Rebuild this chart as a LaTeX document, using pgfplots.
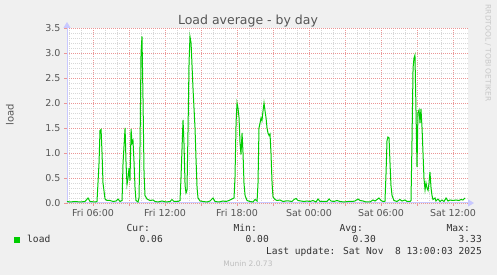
\documentclass[border=0pt]{standalone}
\usepackage{pgfplots}
\pgfplotsset{compat=1.18}
\usepackage{fontspec}
\setmainfont{DejaVu Sans}
\newfontfamily\monofont{DejaVu Sans Mono}
\usetikzlibrary{arrows.meta}
\definecolor{bgc}{RGB}{240,240,240}
\definecolor{axisblue}{RGB}{200,200,255}
\definecolor{majgrid}{RGB}{235,150,150}
\definecolor{mingrid}{RGB}{215,215,215}
\definecolor{txtgray}{RGB}{85,85,85}
\definecolor{loadgreen}{RGB}{0,204,0}
\definecolor{faint}{RGB}{200,200,200}
\begin{document}
\begin{tikzpicture}
\fill[bgc] (0,0) rectangle (497pt,275pt);
\begin{axis}[
  at={(67pt,72pt)}, anchor=south west,
  scale only axis, width=401pt, height=175pt,
  xmin=3.83, xmax=37.25, ymin=0, ymax=3.5,
  axis background/.style={fill=white},
  axis lines=left,
  axis line style={draw=axisblue, line width=1pt},
  x axis line style={-{Triangle[length=6pt,width=7pt]}, shorten >=-6pt},
  y axis line style={-{Triangle[length=6pt,width=7pt]}, shorten >=-6pt},
  xtick={3,6,...,36},
  xticklabels={,Fri 06:00,,Fri 12:00,,Fri 18:00,,Sat 00:00,,Sat 06:00,,Sat 12:00},
  minor x tick num=2,
  ytick={0,0.5,...,3.5},
  minor y tick num=4,
  yticklabel style={/pgf/number format/.cd, fixed, fixed zerofill, precision=1},
  /pgf/number format/assume math mode=true,
  tick label style={font=\fontsize{9.5}{10}\selectfont, text=txtgray},
  tick align=outside,
  major tick length=3pt, minor tick length=0pt,
  major tick style={draw=majgrid, line width=0.8pt},
  grid=both,
  major grid style={draw=majgrid, line width=0.8pt, dash pattern=on 1pt off 1pt},
  minor grid style={draw=mingrid, line width=0.7pt, dash pattern=on 1pt off 1pt},
  clip=false,
]
\addplot[color=loadgreen, line width=1pt] coordinates {
(3.83,0.03)(4.08,0.02)(4.5,0.03)(4.92,0.02)(5.33,0.03)(5.58,0.1)(5.75,0.03)(6.17,0.02)(6.33,0.03)
(6.5,0.8)(6.58,1.45)(6.67,1.47)(6.75,1.0)(6.83,0.4)(7.0,0.08)(7.17,0.05)(7.42,0.05)(7.67,0.03)
(7.92,0.04)(8.08,0.08)(8.25,0.03)(8.42,0.05)(8.5,0.8)(8.67,1.5)(8.75,0.8)(8.83,0.37)(8.92,0.5)
(9.0,0.7)(9.08,0.45)(9.17,1.48)(9.25,1.2)(9.33,1.25)(9.42,0.8)(9.5,0.3)(9.58,0.05)(9.75,0.02)
(9.83,0.1)(9.92,1.2)(10.0,3.0)(10.08,3.33)(10.17,2.0)(10.25,0.6)(10.33,0.15)(10.5,0.08)(10.75,0.05)
(11.0,0.06)(11.17,0.03)(11.42,0.02)(11.75,0.04)(12.08,0.02)(12.42,0.03)(12.58,0.07)(12.75,0.03)
(13.08,0.03)(13.25,0.05)(13.33,0.5)(13.5,1.66)(13.58,1.2)(13.67,0.35)(13.75,0.2)(13.83,0.25)
(13.92,1.5)(14.0,2.8)(14.08,3.33)(14.17,3.2)(14.33,2.3)(14.5,1.5)(14.58,0.9)(14.67,0.3)(14.75,0.1)
(14.92,0.04)(15.17,0.03)(15.5,0.02)(15.75,0.04)(16.0,0.1)(16.17,0.03)(16.5,0.02)(16.83,0.04)
(17.08,0.03)(17.33,0.05)(17.58,0.08)(17.75,0.1)(17.83,0.5)(17.92,1.6)(18.0,2.0)(18.08,1.9)
(18.17,1.7)(18.25,1.2)(18.33,0.97)(18.42,1.4)(18.5,1.0)(18.58,0.4)(18.67,0.15)(18.83,0.05)
(19.08,0.03)(19.33,0.02)(19.5,0.07)(19.67,0.04)(19.75,0.4)(19.83,1.5)(19.92,1.6)(20.0,1.7)
(20.08,1.65)(20.17,1.85)(20.25,2.0)(20.33,1.85)(20.42,1.7)(20.5,1.5)(20.58,1.4)(20.67,1.35)
(20.75,1.38)(20.83,1.0)(20.92,0.4)(21.0,0.12)(21.17,0.07)(21.33,0.05)(21.58,0.06)(21.83,0.03)
(22.08,0.04)(22.33,0.04)(22.58,0.03)(22.75,0.07)(22.92,0.09)(23.08,0.05)(23.33,0.04)(23.58,0.03)
(23.83,0.04)(24.08,0.03)(24.33,0.05)(24.58,0.02)(24.75,0.08)(24.92,0.03)(25.25,0.03)(25.5,0.03)
(25.67,0.08)(25.83,0.04)(26.08,0.03)(26.33,0.05)(26.58,0.03)(26.92,0.02)(27.25,0.03)(27.58,0.03)
(27.83,0.04)(28.08,0.08)(28.25,0.05)(28.5,0.04)(28.75,0.02)(29.08,0.02)(29.33,0.06)(29.5,0.04)
(29.67,0.07)(29.83,0.1)(30.0,0.05)(30.17,0.03)(30.33,0.03)(30.42,0.6)(30.5,1.25)(30.58,1.32)
(30.67,1.3)(30.75,0.8)(30.83,0.35)(30.92,0.15)(31.08,0.05)(31.33,0.03)(31.58,0.07)(31.75,0.04)
(32.0,0.06)(32.17,0.03)(32.42,0.03)(32.5,0.05)(32.58,1.2)(32.67,2.7)(32.75,2.9)(32.83,2.96)
(32.92,1.8)(33.0,0.72)(33.08,1.8)(33.17,1.86)(33.25,1.6)(33.33,1.88)(33.42,1.5)(33.5,1.0)
(33.58,0.5)(33.67,0.26)(33.75,0.4)(33.83,0.3)(33.92,0.25)(34.0,0.4)(34.08,0.62)(34.17,0.3)
(34.25,0.15)(34.33,0.07)(34.5,0.1)(34.58,0.04)(34.75,0.08)(34.92,0.03)(35.08,0.06)(35.25,0.03)
(35.42,0.1)(35.58,0.04)(35.75,0.06)(36.0,0.05)(36.25,0.06)(36.5,0.05)(36.67,0.07)(36.83,0.06)(37.0,0.1)
};
\end{axis}
% title and labels
\node[font=\fontsize{12.5}{14}\selectfont, text=txtgray, anchor=base] at (248pt,250pt) {Load average - by day};
\node[font=\fontsize{10}{12}\selectfont, text=txtgray, rotate=90] at (10pt,160pt) {load};
\node[font=\fontsize{7.5}{9}\selectfont, text=faint, rotate=-90] at (488pt,222pt) {RRDTOOL / TOBI OETIKER};
% legend
\fill[loadgreen] (14pt,32pt) rectangle (20pt,38pt);
\begin{scope}[every node/.style={font=\monofont\fontsize{9.6}{11}\selectfont, text={rgb,255:red,51;green,51;blue,51}, inner sep=0pt}]
\node[anchor=base west] at (27pt,32pt) {load};
\node[anchor=base east] at (150pt,43.5pt) {Cur:};
\node[anchor=base east] at (163pt,32pt) {0.06};
\node[anchor=base east] at (257pt,43.5pt) {Min:};
\node[anchor=base east] at (269pt,32pt) {0.00};
\node[anchor=base east] at (363pt,43.5pt) {Avg:};
\node[anchor=base east] at (376pt,32pt) {0.30};
\node[anchor=base east] at (470pt,43.5pt) {Max:};
\node[anchor=base east] at (482pt,32pt) {3.33};
\node[anchor=base east] at (482pt,20.5pt) {Last update: Sat Nov\ \ 8 13:00:03 2025};
\end{scope}
\node[font=\fontsize{7.5}{9}\selectfont, text={rgb,255:red,190;green,190;blue,190}, anchor=base, inner sep=0pt] at (248pt,8pt) {Munin 2.0.73};
\pgfresetboundingbox
\path (0,0) rectangle (497pt,275pt);
\end{tikzpicture}
\end{document}
